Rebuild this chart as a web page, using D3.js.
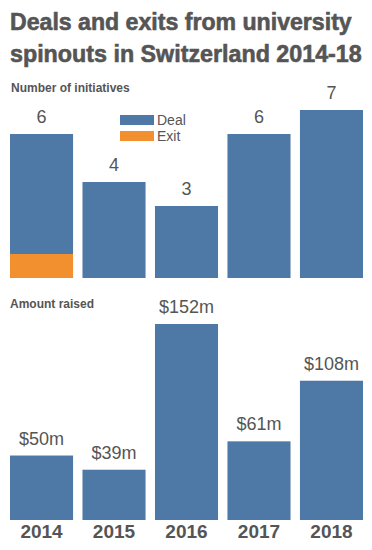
<!DOCTYPE html>
<html>
<head>
<meta charset="utf-8">
<script src="https://cdn.jsdelivr.net/npm/d3@7/dist/d3.min.js"></script>
<style>
  body { margin: 0; background: #fff; }
  text { font-family: "Liberation Sans", Arial, sans-serif; }
</style>
</head>
<body>
<div id="chart"></div>
<script>
var years = ['2014', '2015', '2016', '2017', '2018'];
var deals = [5, 4, 3, 6, 7];
var exits = [1, 0, 0, 0, 0];
var amounts = [50, 39, 152, 61, 108];
var amountLabels = ['$50m', '$39m', '$152m', '$61m', '$108m'];
var titleLines = ['Deals and exits from university', 'spinouts in Switzerland 2014-18'];

var width = 372, height = 550;
var blue = '#4e78a5', orange = '#f28f2e', grey = '#555';

var svg = d3.select('#chart').append('svg')
    .attr('width', width)
    .attr('height', height);

// title: bold, squeezed horizontally to the reference width
var titleWidths = [342, 352];
titleLines.forEach(function(line, i){
    var t = svg.append('text')
        .attr('x', 0)
        .attr('y', 0)
        .attr('font-family', '"Liberation Sans", Arial, sans-serif')
        .attr('font-weight', 'bold')
        .attr('font-size', 23.5)
        .attr('fill', grey)
        .attr('stroke', grey)
        .attr('stroke-width', 0.6)
        .text(line);
    var k = titleWidths[i] / t.node().getComputedTextLength();
    t.attr('transform', 'translate(10,' + (30 + i * 32) + ') scale(' + k + ',1)');
});

var x = d3.scaleBand()
    .domain(years)
    .range([10, 363])
    .paddingInner(0.13);

// top panel: number of initiatives
var top0 = 278;
var yTop = d3.scaleLinear().domain([0, 7]).range([top0, 110]);

svg.append('text')
    .attr('x', 11).attr('y', 92)
    .attr('font-size', 12).attr('font-weight', 'bold')
    .attr('fill', grey)
    .text('Number of initiatives');

var stackData = years.map(function(y, i){
    return { year: y, exit: exits[i], deal: deals[i] };
});
var stacked = d3.stack().keys(['exit', 'deal'])(stackData);
var colours = { exit: orange, deal: blue };

svg.append('g').selectAll('g')
    .data(stacked)
    .enter().append('g')
    .attr('fill', function(d){ return colours[d.key]; })
    .selectAll('rect')
    .data(function(d){ return d; })
    .enter().append('rect')
    .attr('x', function(d){ return x(d.data.year); })
    .attr('y', function(d){ return yTop(d[1]); })
    .attr('width', x.bandwidth())
    .attr('height', function(d){ return yTop(d[0]) - yTop(d[1]); });

svg.append('g').selectAll('text')
    .data(stackData)
    .enter().append('text')
    .attr('x', function(d){ return x(d.year) + x.bandwidth() / 2; })
    .attr('y', function(d){ return yTop(d.deal + d.exit) - 11; })
    .attr('text-anchor', 'middle')
    .attr('font-size', 18)
    .attr('fill', grey)
    .text(function(d){ return d.deal + d.exit; });

// legend
var legend = svg.append('g').attr('transform', 'translate(120,115)');
[['Deal', blue], ['Exit', orange]].forEach(function(item, i){
    legend.append('rect')
        .attr('x', 0).attr('y', i * 16)
        .attr('width', 34).attr('height', 10)
        .attr('fill', item[1]);
    legend.append('text')
        .attr('x', 37).attr('y', i * 16 + 10)
        .attr('font-size', 14)
        .attr('fill', grey)
        .text(item[0]);
});

// bottom panel: amount raised
var bot0 = 520;
var yBot = d3.scaleLinear().domain([0, 152]).range([bot0, 324]);

svg.append('text')
    .attr('x', 10).attr('y', 308)
    .attr('font-size', 12).attr('font-weight', 'bold')
    .attr('fill', grey)
    .text('Amount raised');

svg.append('g').selectAll('rect')
    .data(amounts)
    .enter().append('rect')
    .attr('x', function(d, i){ return x(years[i]); })
    .attr('y', function(d){ return yBot(d); })
    .attr('width', x.bandwidth())
    .attr('height', function(d){ return bot0 - yBot(d); })
    .attr('fill', blue);

svg.append('g').selectAll('text')
    .data(amounts)
    .enter().append('text')
    .attr('x', function(d, i){ return x(years[i]) + x.bandwidth() / 2; })
    .attr('y', function(d){ return yBot(d) - 11; })
    .attr('text-anchor', 'middle')
    .attr('font-size', 18)
    .attr('fill', grey)
    .text(function(d, i){ return amountLabels[i]; });

// year axis
var axis = svg.append('g')
    .attr('transform', 'translate(0,' + bot0 + ')')
    .call(d3.axisBottom(x).tickSize(0).tickPadding(5));
axis.select('.domain').remove();
axis.selectAll('text')
    .attr('font-family', '"Liberation Sans", Arial, sans-serif')
    .attr('font-size', 19)
    .attr('font-weight', 'bold')
    .attr('fill', grey);
</script>
</body>
</html>
